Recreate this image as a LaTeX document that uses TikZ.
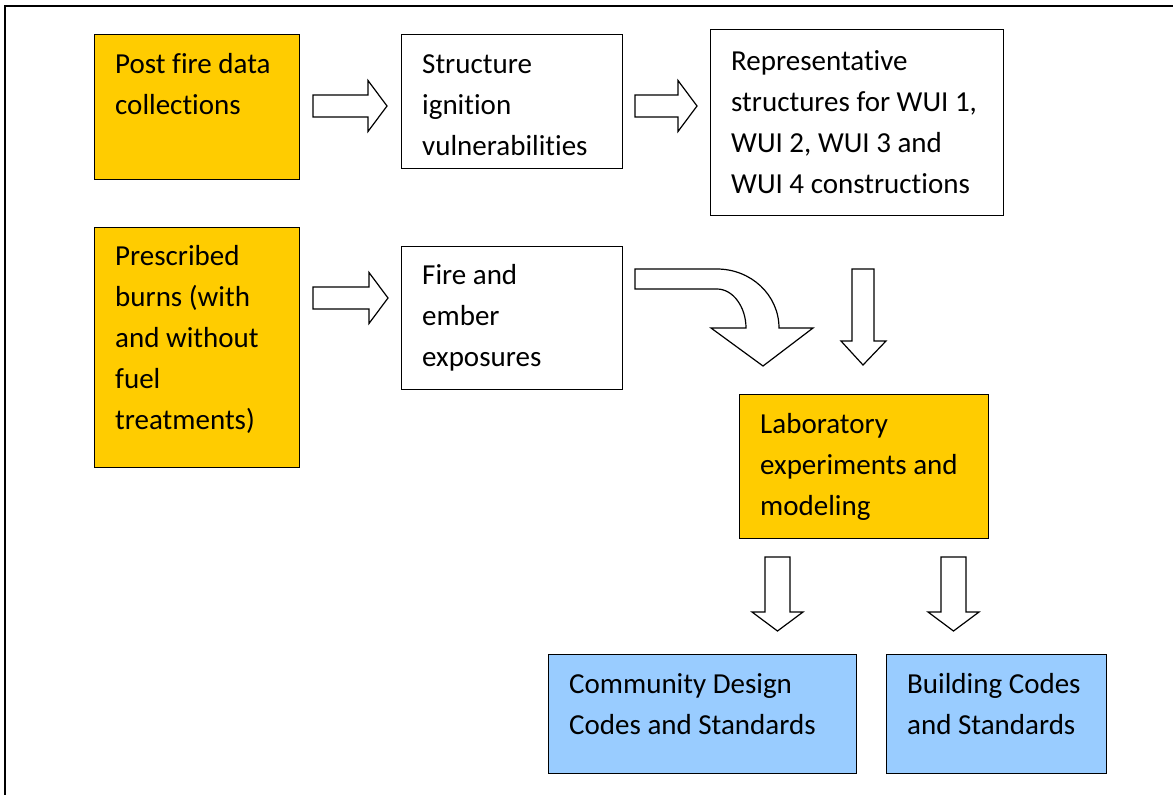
\documentclass[tikz,border=0pt]{standalone}
\usepackage{fontspec}
\setmainfont[Ligatures={NoCommon}]{Carlito}
\definecolor{gold}{HTML}{FFCC00}
\definecolor{skyblue}{HTML}{99CCFF}
\begin{document}
\begin{tikzpicture}
  [x=1pt,y=-1pt,
   box/.style={draw,line width=1.3pt,anchor=north west,inner sep=0pt},
   txt/.style={anchor=north west,inner sep=0pt,align=left,font=\fontsize{29}{41}\selectfont},
   barrow/.style={draw,line width=1.2pt,fill=white,line join=miter}]

  \useasboundingbox (0,0) rectangle (1173,795);
  % frame
  \draw[line width=1.8pt] (1173,6) -- (5,6) -- (5,795);

  % boxes
  \node[box,fill=gold,minimum width=205,minimum height=145] (post) at (94,34) {};
  \node[box,minimum width=221,minimum height=134] (struct) at (401,34) {};
  \node[box,minimum width=293,minimum height=186] (repr) at (710,29) {};
  \node[box,fill=gold,minimum width=205,minimum height=240] (presc) at (94,227) {};
  \node[box,minimum width=221,minimum height=143] (fire) at (401,246) {};
  \node[box,fill=gold,minimum width=249,minimum height=144] (lab) at (739,394) {};
  \node[box,fill=skyblue,minimum width=308,minimum height=119] (comm) at (548,654) {};
  \node[box,fill=skyblue,minimum width=220,minimum height=119] (bldg) at (886,654) {};

  % texts
  \node[txt] (post-t) at ([shift={(21,11)}]post.north west) {\strut Post fire data\\collections};
  \node[txt] (struct-t) at ([shift={(21,11)}]struct.north west) {\strut Structure\\ignition\\vulnerabilities};
  \node[txt] (repr-t) at ([shift={(21,13)}]repr.north west) {\strut Representative\\structures for WUI 1,\\WUI 2, WUI 3 and\\WUI 4 constructions};
  \node[txt] (presc-t) at ([shift={(21,10)}]presc.north west) {\strut Prescribed\\burns (with\\and without\\fuel\\treatments)};
  \node[txt] (fire-t) at ([shift={(21,10)}]fire.north west) {\strut Fire and\\ember\\exposures};
  \node[txt] (lab-t) at ([shift={(21,11)}]lab.north west) {\strut Laboratory\\experiments and\\modeling};
  \node[txt] (comm-t) at ([shift={(21,11)}]comm.north west) {\strut Community Design\\Codes and Standards};
  \node[txt] (bldg-t) at ([shift={(21,11)}]bldg.north west) {\strut Building Codes\\and Standards};

  % block arrows to the right
  \foreach \x/\y/\l in {313/106/55,635/106/43,313/298/56}
    \draw[barrow] (\x,\y-11) -- ++(\l,0) -- ++(0,-14.5) -- ++(19,25.5) -- ++(-19,25.5)
      -- ++(0,-14.5) -- ++(-\l,0) -- cycle;

  % bent arrow
  \draw[barrow] (635,269) -- (717,269) .. controls (751,269) and (779,295) .. (779,328)
    -- (813,328) -- (763,366) -- (711,328) -- (746,328)
    .. controls (746,307) and (733,289) .. (717,289) -- (635,289) -- cycle;

  % block arrows down
  \draw[barrow] (852,269) -- (874,269) -- (874,341) -- (886,341) -- (863,365)
    -- (841,341) -- (852,341) -- cycle;
  \foreach \x in {777.5,953.5}
    \draw[barrow] (\x-12.5,557) -- ++(25,0) -- ++(0,55) -- ++(13,0) -- ++(-25.5,19)
      -- ++(-25.5,-19) -- ++(13,0) -- cycle;
\end{tikzpicture}
\end{document}
